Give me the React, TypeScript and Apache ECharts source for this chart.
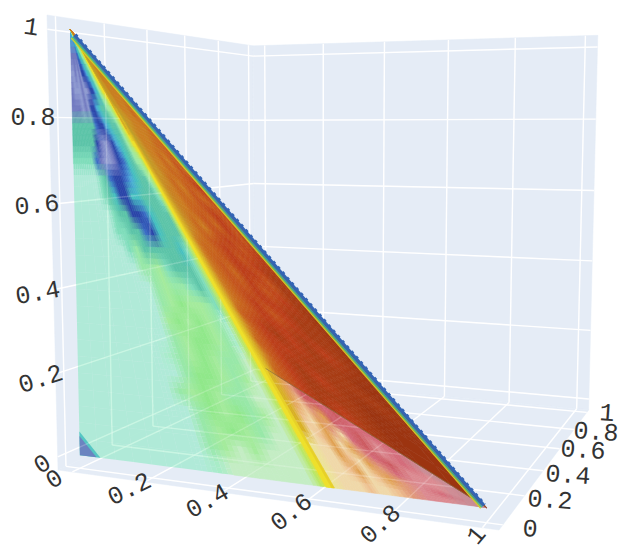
import React, { useEffect, useRef } from "react";
import * as echarts from "echarts";

// ---- data ----
const TICKS = [0, 0.2, 0.4, 0.6, 0.8, 1];
const T_EDGES = [0, .05, .10, .15, .20, .24, .28, .32, .36, .40, .44, .48, .52, .56, .59, .62, .64, .66, .68, .70, .73, .76, .80, .84, .88, .92, .96, 1];
const MESH_ROWS = [
  "fffffffeeekkkooppqxxyyyzzrr",
  "jjjjjjggeedkkoppqqxxyyzzrzr",
  "iijijihhgfedkoppqxxyyzzrzrs",
  "jiiijiijhhfekoppqxyyzzzrzsr",
  "jjjijihhfeddklopqxyyzzrzsrs",
  "ddddddghhfeddkopqxyyzrzsrss",
  "dddddhjijhfedkoppqxyyzrzsss",
  "ccccgjiijhgedklopqxyzrzssts",
  "aaaacdghhgfeddkopqxyzrsrtst",
  "aaaacdehheedddcopqxyzrsstut",
  "aaaaacddhhgedddopqyyzsrtstu",
  "aaaaaccddgheddd" + "opqyzrsstutu",
  "aaaaaackdddddecopqyzrstsutv",
  "aaaaaaakklcdddcopqyzsrtutuv",
  "aaaaaaaaklkkcdcopqyrstutuvv",
  "aaaaaaaaklmllkcopqrsstuutvv",
  "aaaaaaaalmlmlkbopqrstsutuvw",
  "aaaaaaaaklmmlkbopqrsttuuvvw",
  "aaaaaaabklmlkknopqrstutuvvw",
  "aaaaaaaakmmlklnopqrstuuvuvw",
  "aaaaaaaklmlkknnopqstuvuvvww",
  "aaaaaaaakmlmklnopqrtuuvvvvw",
  "aaaaaaaaklmlknnopqstuvuvwww",
  "aaaaaaaaklnlnnnopqrtuvvvwww",
  "aaaaaaaabnnnnnnopqstuvuvwww",
];
const T_PINK = [.66, .68, .70, .72, .74, .76, .78, .80, .83, .86, .90, .94, 1];
const PINK_ROWS = [
  "qYSVVUVUUUWW",
  "qYQSYVUVTUWW",
  "qQPYSPUVTUTW",
  "qPQYPYSUVTTW",
  "XPPYQPYSUTTW",
  "XPPQYPQYSTUW",
  "XPPPQPPQSTTW",
];
// small patch in the corner at the origin: size along x and z, colour code, outermost first
const CORNER_SIZES = [0.058, 0.047];
const CORNER_CODES = ["e", "j"];
const Z_LABELS = ["0", "0.2", "0.4", "0.6", "0.8", "1"];
const X_LABELS = ["0", "0.2", "0.4", "0.6", "0.8", "1"];
const Y_LABELS = ["0", "0.2", "0.4", "0.6", "0.8", "1"];

// ---- colours and layout ----
const BG = [0xe5, 0xec, 0xf6];
const PALETTE: Record<string, [string, number]> = {
  a: ["#b0ebd8", .55], b: ["#a8ecc8", .7], c: ["#7fddbb", 1], d: ["#5cc4a8", 1], e: ["#45bfc0", 1], f: ["#4ba8d8", 1],
  g: ["#3a6cc4", 1], h: ["#2a44a8", 1], i: ["#8e9ad0", 1], j: ["#7078c0", 1], k: ["#98e8a8", 1], l: ["#a4eb9c", 1],
  m: ["#90e88a", 1], n: ["#c4edc4", 1], o: ["#b8e868", 1], p: ["#eee02c", 1], q: ["#d8b024", 1], r: ["#cc7c20", 1],
  s: ["#c8661c", 1], t: ["#c4541c", 1], u: ["#bc3e1a", 1], v: ["#a83c14", 1], w: ["#9c3410", 1], x: ["#bca02a", 1],
  y: ["#c89424", 1], z: ["#c88020", 1],
  P: ["#f0d8a8", 1], Q: ["#efc090", 1], S: ["#e09878", 1], T: ["#dc8a90", 1], U: ["#d46a78", 1], V: ["#cc5a60", 1],
  W: ["#c98c94", 1], X: ["#ede39a", 1], Y: ["#e0a050", 1],
};
const codeRgba = (code: string) => {
  const [hex, a] = PALETTE[code];
  return [1, 3, 5].map((i) => parseInt(hex.slice(i, i + 2), 16)).concat(a);
};
function rgbaToFill(c: number[]) {
  const a = c[3];
  const s = [0, 1, 2].map((i) => Math.max(0, Math.min(255, Math.round((c[i] - (1 - a) * BG[i]) / a))));
  return `rgba(${s[0]},${s[1]},${s[2]},${a.toFixed(3)})`;
}

// perspective of the box, fitted on its corners
const P = -0.1494, Q = 0.362, R = -0.0402;
const F = [58, 470], E = [499, 530], G = [255, 379], H = [47, 15];
const VA = [E[0] * (1 + P) - F[0], E[1] * (1 + P) - F[1]];
const VB = [G[0] * (1 + Q) - F[0], G[1] * (1 + Q) - F[1]];
const VC = [H[0] * (1 + R) - F[0], H[1] * (1 + R) - F[1]];
function boxToPlot(u: number, v: number, w: number) {
  const d = 1 + P * u + Q * v + R * w;
  return [
    (F[0] + VA[0] * u + VB[0] * v + VC[0] * w) / d,
    (F[1] + VA[1] * u + VB[1] * v + VC[1] * w) / d,
  ];
}
const toU = (x: number) => 0.038 + 0.93 * x;
const toV = (y: number) => 0.03 + 0.94 * y;
const toW = (z: number) => 0.03 + 0.94 * z;
const project = (x: number, y: number, z: number) => boxToPlot(toU(x), toV(y), toW(z));

const SPLIT_COL = 17;
const zLine = (t: number) => (0.495 * (1 - t)) / (1 - 0.495 * t);

// smooth shading of a coded grid: each cell is cut into n x n quads whose colour blends the cell centres
type Quad = { pts: number[][]; fill: string; solid: boolean };
function shade(rows: string[], edges: number[], point: (c: number, t: number, r: number) => number[], n: number) {
  const nr = rows.length, nc = rows[0].length;
  const at = (r: number, c: number) => rows[Math.max(0, Math.min(nr - 1, r))][Math.max(0, Math.min(nc - 1, c))];
  const out: Quad[] = [];
  for (let r = 0; r < nr; r++) {
    for (let c = 0; c < nc; c++) {
      let flat = true;
      for (let a = -1; a <= 1; a++) for (let b = -1; b <= 1; b++) if (at(r + a, c + b) !== at(r, c)) flat = false;
      const m = flat ? 1 : n;
      for (let i = 0; i < m; i++) {
        for (let j = 0; j < m; j++) {
          const rf = r + (j + 0.5) / m - 0.5, cf = c + (i + 0.5) / m - 0.5;
          const r0 = Math.floor(rf), c0 = Math.floor(cf), fr = rf - r0, fc = cf - c0;
          const q = [at(r0, c0), at(r0, c0 + 1), at(r0 + 1, c0), at(r0 + 1, c0 + 1)].map(codeRgba);
          const col = [0, 1, 2, 3].map((k) => (q[0][k] * (1 - fc) + q[1][k] * fc) * (1 - fr) + (q[2][k] * (1 - fc) + q[3][k] * fc) * fr);
          const t0 = edges[c] + ((edges[c + 1] - edges[c]) * i) / m, t1 = edges[c] + ((edges[c + 1] - edges[c]) * (i + 1)) / m;
          const r1 = r + j / m, r2 = r + (j + 1) / m;
          out.push({
            pts: [point(c, t0, r1), point(c, t1, r1), point(c, t1, r2), point(c, t0, r2)],
            fill: rgbaToFill(col),
            solid: col[3] >= 0.95,
          });
        }
      }
    }
  }
  return out;
}
const meshPoint = (c: number, t: number, r: number) => {
  const zb = c >= SPLIT_COL ? zLine(t) : 0;
  const z = zb + (1 - zb) * (1 - r / MESH_ROWS.length);
  return project(t * (1 - z), 0, z);
};
const pinkPoint = (_: number, t: number, r: number) => {
  const z = zLine(t) * (1 - r / PINK_ROWS.length);
  return project(t * (1 - z), 0, z);
};
// left of the split and the pink part lie under the faint grid, the red part covers it
const lowQuads: Quad[] = [
  ...shade(MESH_ROWS.map((s) => s.slice(0, SPLIT_COL)), T_EDGES.slice(0, SPLIT_COL + 1), meshPoint, 3),
  ...shade(PINK_ROWS, T_PINK, pinkPoint, 3),
];
const highQuads: Quad[] = shade(
  MESH_ROWS.map((s) => s.slice(SPLIT_COL - 1)),
  T_EDGES.slice(SPLIT_COL - 1),
  (c, t, r) => meshPoint(c === 0 ? 0 : SPLIT_COL, t, r),
  3,
);

// walls and grid in box coordinates
const WALLS = [
  [[0, 0, 0], [0, 1, 0], [0, 1, 1], [0, 0, 1]],
  [[0, 1, 0], [1, 1, 0], [1, 1, 1], [0, 1, 1]],
  [[0, 0, 0], [1, 0, 0], [1, 1, 0], [0, 1, 0]],
];
const gridLines: number[][][] = [];
TICKS.forEach((k) => {
  const ku = toU(k), kv = toV(k), kw = toW(k);
  gridLines.push([[0, kv, 0], [0, kv, 1]], [[0, 0, kw], [0, 1, kw]]);
  gridLines.push([[ku, 1, 0], [ku, 1, 1]], [[0, 1, kw], [1, 1, kw]]);
  gridLines.push([[ku, 0, 0], [ku, 1, 0]], [[0, kv, 0], [1, kv, 0]]);
});

// diagonal rim of the surface: offset px, width, colour, dash
const RIM = [
  { off: 0.5, w: 3.0, color: "#3364b4", dash: null },
  { off: 0.0, w: 4, color: "#3364b4", dash: [3, 4] },
  { off: 2.8, w: 1.4, color: "#2f9fb0", dash: null },
  { off: 4, w: 1.2, color: "#6cc860", dash: null },
  { off: 5, w: 1.1, color: "#d8cc28", dash: null },
];

const FONT = "Liberation Mono";
const LABEL_SIZE = 25;
const LABEL_COLOR = "#333333";
const Z_POS = [[43, 465, 32], [41, 380, 18], [38, 294, 10], [37, 206, 5], [33, 118, 0], [31, 28, -8]];
const X_POS = [[55, 480, 32], [130, 490, 26], [208, 502, 30], [292, 513, 38], [381, 525, 42], [477, 536, 50]];
const Y_POS = [[530, 530, -3], [550, 501, -4], [568, 476, -4], [583, 451, -4], [596, 433, -4], [607, 414, -4]];

function labelElements(labels: string[], pos: number[][]) {
  return labels.map((text, i) => ({
    type: "text",
    x: pos[i][0],
    y: pos[i][1],
    z: 100,
    rotation: (pos[i][2] * Math.PI) / 180,
    silent: true,
    style: {
      text,
      fill: LABEL_COLOR,
      font: `${LABEL_SIZE}px "${FONT}", monospace`,
      textAlign: "center",
      textVerticalAlign: "middle",
      align: "center",
      verticalAlign: "middle",
    },
  }));
}

const quadSeries = (quads: Quad[], z: number) => ({
  type: "custom", silent: true, progressive: 0, z, clip: false,
  data: quads.map((_, i) => [i]),
  renderItem: (_: any, api: any) => {
    const q = quads[api.value(0)];
    return {
      type: "polygon",
      shape: { points: q.pts.map((p) => api.coord(p)) },
      style: q.solid ? { fill: q.fill, stroke: q.fill, lineWidth: 0.6 } : { fill: q.fill },
    };
  },
});
const gridSeries = (z: number, stroke: string) => ({
  type: "custom", silent: true, progressive: 0, z, clip: false,
  data: gridLines.map((_, i) => [i]),
  renderItem: (_: any, api: any) => {
    const l = gridLines[api.value(0)];
    const a = api.coord(boxToPlot(l[0][0], l[0][1], l[0][2]));
    const b = api.coord(boxToPlot(l[1][0], l[1][1], l[1][2]));
    return { type: "line", shape: { x1: a[0], y1: a[1], x2: b[0], y2: b[1] }, style: { stroke, lineWidth: 1.4 } };
  },
});

export default function App() {
  const ref = useRef<HTMLDivElement>(null);
  useEffect(() => {
    if (!ref.current) return;
    const chart = echarts.init(ref.current, undefined, { renderer: "svg" });
    chart.setOption({
      animation: false,
      backgroundColor: "#ffffff",
      grid: { left: 0, right: 0, top: 0, bottom: 0 },
      xAxis: { type: "value", min: 0, max: 630, show: false },
      yAxis: { type: "value", min: 0, max: 551, inverse: true, show: false },
      graphic: { elements: [...labelElements(Z_LABELS, Z_POS), ...labelElements(X_LABELS, X_POS), ...labelElements(Y_LABELS, Y_POS)] },
      series: [
        {
          type: "custom", silent: true, progressive: 0, z: 1, clip: false,
          data: WALLS.map((_, i) => [i]),
          renderItem: (_: any, api: any) => ({
            type: "polygon",
            shape: { points: WALLS[api.value(0)].map((c) => api.coord(boxToPlot(c[0], c[1], c[2]))) },
            style: { fill: "#e5ecf6", stroke: "#e5ecf6", lineWidth: 0.5 },
          }),
        },
        gridSeries(2, "#ffffff"),
        quadSeries(lowQuads, 3),
        {
          type: "custom", silent: true, progressive: 0, z: 4, clip: false,
          data: CORNER_SIZES.map((_, i) => [i]),
          renderItem: (_: any, api: any) => {
            const i = api.value(0), s = CORNER_SIZES[i];
            return {
              type: "polygon",
              shape: { points: [project(0, 0, 0), project(s, 0, 0), project(0, 0, s)].map((p) => api.coord(p)) },
              style: { fill: PALETTE[CORNER_CODES[i]][0], opacity: 0.85 },
            };
          },
        },
        gridSeries(5, "rgba(255,255,255,0.2)"),
        quadSeries(highQuads, 6),
        {
          type: "custom", silent: true, progressive: 0, z: 7, clip: false,
          data: [[0]],
          renderItem: (_: any, api: any) => {
            const a = api.coord(project(0.495, 0, 0.25));
            const b = api.coord(project(1, 0, 0));
            return { type: "line", shape: { x1: a[0], y1: a[1], x2: b[0], y2: b[1] }, style: { stroke: "rgba(130,110,70,0.7)", lineWidth: 0.9 } };
          },
        },
        {
          type: "custom", silent: true, progressive: 0, z: 8, clip: false,
          data: RIM.map((_, i) => [i]),
          renderItem: (_: any, api: any) => {
            const rim = RIM[api.value(0)];
            const a = api.coord(project(0.012, 0, 0.988));
            const b = api.coord(project(0.995, 0, 0.005));
            const dx = b[0] - a[0], dy = b[1] - a[1], len = Math.hypot(dx, dy);
            const ox = (-dy / len) * rim.off, oy = (dx / len) * rim.off;
            return {
              type: "line",
              shape: { x1: a[0] + ox, y1: a[1] + oy, x2: b[0] + ox, y2: b[1] + oy },
              style: { stroke: rim.color, lineWidth: rim.w, lineDash: rim.dash || undefined },
            };
          },
        },
      ],
    });
    return () => chart.dispose();
  }, []);
  return <div ref={ref} style={{ position: "fixed", left: 0, top: 0, width: 630, height: 551 }} />;
}
